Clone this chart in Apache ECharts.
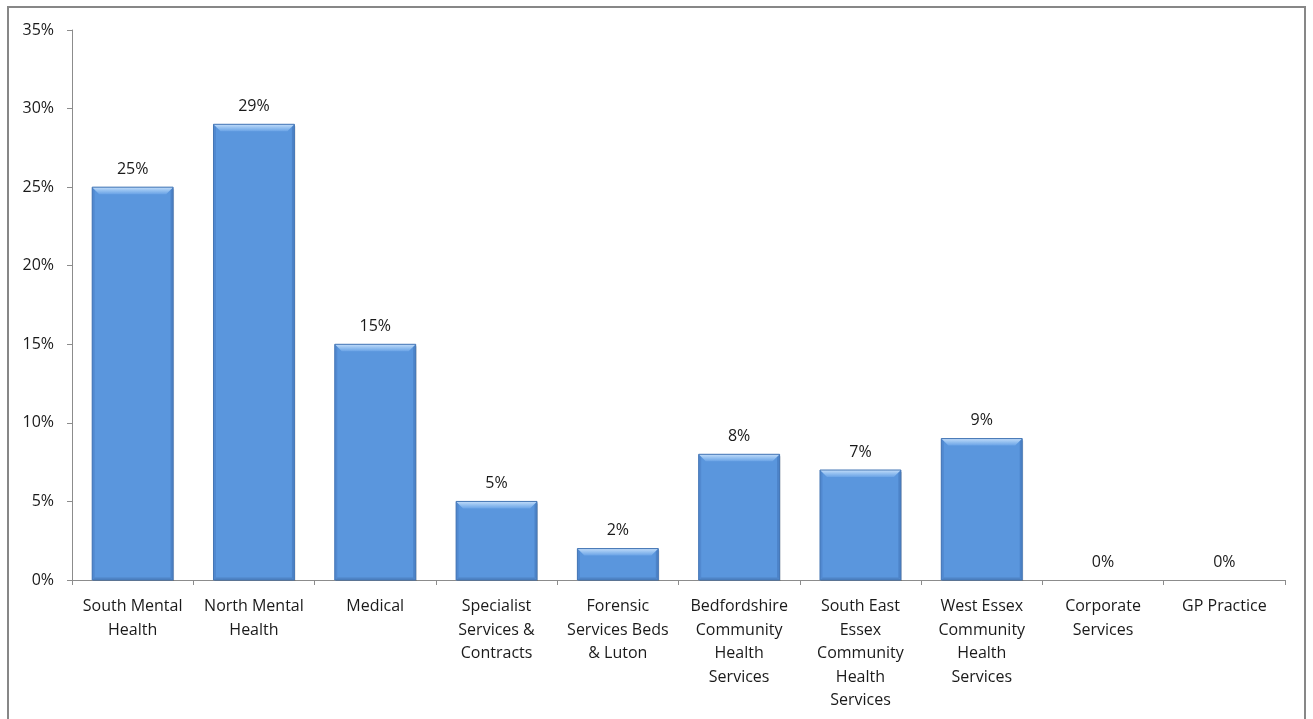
<!DOCTYPE html>
<html><head><meta charset="utf-8">
<script src="https://cdn.jsdelivr.net/npm/echarts@6/dist/echarts.min.js"></script>
<style>html,body{margin:0;padding:0;background:#fff}#c{width:1313px;height:719px}</style>
</head><body><div id="c"></div>
<script>
const categories = ["South Mental\nHealth","North Mental\nHealth","Medical","Specialist\nServices &\nContracts","Forensic\nServices Beds\n& Luton","Bedfordshire\nCommunity\nHealth\nServices","South East\nEssex\nCommunity\nHealth\nServices","West Essex\nCommunity\nHealth\nServices","Corporate\nServices","GP Practice"];
const values = [25, 29, 15, 5, 2, 8, 7, 9, 0, 0];
const yTicks = [0, 5, 10, 15, 20, 25, 30, 35];

const FONT = '"Open Sans"';
const chart = echarts.init(document.getElementById('c'));

function renderBar(params, api) {
  const idx = api.value(0), val = api.value(1);
  const top = api.coord([idx, val]);
  const base = api.coord([idx, 0]);
  const w = api.size([1, 0])[0] * 0.667;
  const cx = top[0];
  const x0 = cx - w / 2, x1 = cx + w / 2;
  const y0 = top[1], yb = base[1];
  const children = [];
  const h = yb - y0;
  if (h > 0.5) {
    const b = Math.min(7, h / 2);
    const s = Math.min(2.5, h / 2);
    children.push({type:'rect', shape:{x:x0+1, y:y0+2, width:w, height:h-1}, style:{fill:'rgba(0,0,0,0.18)'}});
    children.push({type:'rect', shape:{x:x0, y:y0, width:w, height:h}, style:{fill:'#5A96DD'}});
    children.push({type:'polygon', shape:{points:[[x0,y0],[x0+s,y0+s],[x0+s,yb-s],[x0,yb]]}, style:{fill:'#5189D0'}});
    children.push({type:'polygon', shape:{points:[[x1,y0],[x1-s,y0+s],[x1-s,yb-s],[x1,yb]]}, style:{fill:'#4C83C8'}});
    children.push({type:'polygon', shape:{points:[[x0,yb],[x0+s,yb-s],[x1-s,yb-s],[x1,yb]]}, style:{fill:'#4F84C6'}});
    children.push({type:'polygon', shape:{points:[[x0,y0],[x1,y0],[x1-b,y0+b],[x0+b,y0+b]]},
      style:{fill:new echarts.graphic.LinearGradient(0,0,0,1,[{offset:0,color:'#C2DCF9'},{offset:0.5,color:'#94C0F0'},{offset:1,color:'#6AA3E6'}])}});
    children.push({type:'rect', shape:{x:x0, y:y0, width:w, height:h}, style:{fill:'none', stroke:'#4576B4', lineWidth:1}});
  }
  children.push({type:'text', x:cx, y:y0 - 10, style:{text: val + '%', fill:'#1a1a1a', font:'16px ' + FONT, align:'center', verticalAlign:'bottom'}});
  return {type:'group', children};
}

chart.setOption({
  animation: false,
  backgroundColor: '#fff',
  graphic: [{type:'rect', shape:{x:8, y:7, width:1297, height:740}, style:{fill:'none', stroke:'#878787', lineWidth:2}, silent:true}],
  grid: {left:72, right:28, top:30, bottom:139, containLabel:false},
  xAxis: {
    type:'category', data:categories,
    axisLine:{lineStyle:{color:'#8C8C8C', width:1}},
    axisTick:{show:true, alignWithLabel:false, length:5, lineStyle:{color:'#8C8C8C'}},
    axisLabel:{interval:0, color:'#1a1a1a', fontFamily:FONT, fontSize:16, lineHeight:23.5, margin:15}
  },
  yAxis: {
    type:'value', min:0, max:35, interval:5,
    axisLine:{show:true, lineStyle:{color:'#8C8C8C'}},
    axisTick:{show:true, length:5, lineStyle:{color:'#8C8C8C'}},
    splitLine:{show:false},
    axisLabel:{color:'#1a1a1a', fontFamily:FONT, fontSize:16, margin:18, formatter: v => yTicks.includes(v) ? v + '%' : ''}
  },
  series: [{
    type:'custom', renderItem: renderBar,
    encode:{x:0, y:1},
    data: values.map((v, i) => [i, v])
  }]
});
</script></body></html>
